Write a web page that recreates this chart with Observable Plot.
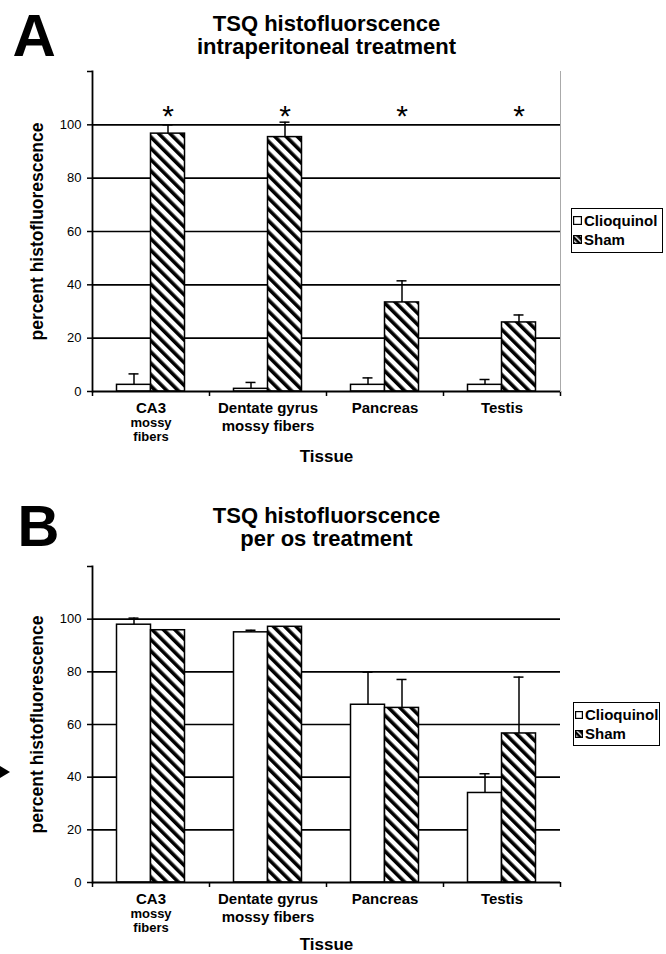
<!DOCTYPE html>
<html><head><meta charset="utf-8">
<script src="https://cdn.jsdelivr.net/npm/d3@7"></script>
<script src="https://cdn.jsdelivr.net/npm/@observablehq/plot@0.6"></script>
<style>
body{margin:0;background:#fff;}
#page{position:relative;width:666px;height:954px;overflow:hidden;font-family:"Liberation Sans",Arial,sans-serif;color:#000;}
.panel{position:absolute;left:0;}
.legend{position:absolute;border:1px solid #000;background:#fff;font-weight:bold;font-size:15px;box-sizing:border-box;white-space:nowrap;padding:2px 0 0 1px;}
.legend .row{display:flex;align-items:center;height:19px;}
.legend svg{margin-right:2px;flex:none;}
.arrow{position:absolute;left:0;top:766px;width:0;height:0;border-top:6px solid transparent;border-bottom:6px solid transparent;border-left:10px solid #000;}
</style></head>
<body><div id="page"></div>
<script>
// ---- data ----
const tissues = ["CA3", "Dentate gyrus", "Pancreas", "Testis"];
const subLabelCA3 = "mossy\nfibers";
const subLabelDG = "mossy fibers";
const series = ["Clioquinol", "Sham"];
const yTicks = [0, 20, 40, 60, 80, 100, 120];
const gridValues = [20, 40, 60, 80, 100];

// Panel A: intraperitoneal treatment
const titleA = ["TSQ histofluorscence", "intraperitoneal treatment"];
const clioA = [2.5, 1.0, 2.5, 2.5];
const clioErrA = [4.1, 2.4, 2.6, 2.0];
const shamA = [96.7, 95.4, 33.4, 25.9];
const shamErrA = [3.3, 5.6, 8.1, 2.8];
const starsA = [true, true, true, true];

// Panel B: per os treatment
const titleB = ["TSQ histofluorscence", "per os treatment"];
const clioB = [97.9, 95.0, 67.5, 34.0];
const clioErrB = [2.5, 0.8, 12.4, 7.3];
const shamB = [95.8, 97.1, 66.3, 56.6];
const shamErrB = [0, 0, 10.8, 21.4];
const starsB = [false, false, false, false];

// ---- drawing ----
const W = 666;
const FONT = '"Liberation Sans", Arial, sans-serif';
const BAR = 34, CAP = 10, SW = 1.5;
const mL = 92, mR = 106;
const band = (W - mL - mR) / tissues.length;
const half = band / 2;

function addHatch(svg, id, size, thick) {
  const defs = d3.select(svg).insert("defs", ":first-child");
  const p = defs.append("pattern").attr("id", id)
    .attr("patternUnits", "userSpaceOnUse")
    .attr("width", size).attr("height", size)
    .attr("patternTransform", "rotate(-45)");
  p.append("rect").attr("width", size).attr("height", size).attr("fill", "#fff");
  p.append("rect").attr("width", thick).attr("height", size).attr("fill", "#000");
}

function makePanel(o) {
  const rows = tissues.map((t, i) => ({
    tissue: t, clio: o.clio[i], clioErr: o.clioErr[i],
    sham: o.sham[i], shamErr: o.shamErr[i], star: o.stars[i]
  }));
  const clioE = rows.filter(r => r.clioErr > 0);
  const shamE = rows.filter(r => r.shamErr > 0);
  const hatch = "hatch" + o.id;
  const marks = [
    Plot.ruleY(gridValues, {stroke: "#000", strokeWidth: 1.6}),
    Plot.barY(rows, {x: "tissue", y: "clio", fill: "#fff", stroke: "#000", strokeWidth: SW,
      insetLeft: half - BAR, insetRight: half}),
    Plot.barY(rows, {x: "tissue", y: "sham", fill: `url(#${hatch})`, stroke: "#000", strokeWidth: SW,
      insetLeft: half, insetRight: half - BAR}),
    Plot.ruleX(clioE, {x: "tissue", y1: "clio", y2: r => r.clio + r.clioErr, dx: -BAR / 2, stroke: "#000", strokeWidth: SW}),
    Plot.tickY(clioE, {x: "tissue", y: r => r.clio + r.clioErr, stroke: "#000", strokeWidth: SW,
      insetLeft: half - BAR / 2 - CAP / 2, insetRight: half + BAR / 2 - CAP / 2}),
    Plot.ruleX(shamE, {x: "tissue", y1: "sham", y2: r => r.sham + r.shamErr, dx: BAR / 2, stroke: "#000", strokeWidth: SW}),
    Plot.tickY(shamE, {x: "tissue", y: r => r.sham + r.shamErr, stroke: "#000", strokeWidth: SW,
      insetLeft: half + BAR / 2 - CAP / 2, insetRight: half - BAR / 2 - CAP / 2}),
    Plot.ruleY([0], {stroke: "#000", strokeWidth: 1.8}),
    Plot.ruleX(tissues, {x: d => d, y1: 0, y2: 0, insetTop: 5, dx: -half, stroke: "#000", strokeWidth: SW}),
    Plot.ruleX([tissues[tissues.length - 1]], {x: d => d, y1: 0, y2: 0, insetTop: 5, dx: half, stroke: "#000", strokeWidth: SW}),
    Plot.frame({anchor: "left", stroke: "#000", strokeWidth: 1.8}),
    Plot.axisY({ticks: yTicks, tickFormat: d => d === 120 ? "" : d, tickSize: 5, tickPadding: 6,
      fontSize: 13, label: null, stroke: "#000", strokeWidth: SW}),
    Plot.text(rows.filter(r => r.star), {x: "tissue", frameAnchor: "top", text: () => "*",
      dx: BAR / 2, dy: 45, lineAnchor: "middle", fontSize: 30, fill: "#000"}),
    // x tick labels
    Plot.text(tissues, {x: d => d, frameAnchor: "bottom", lineAnchor: "bottom", dy: 21,
      fontSize: 15, fontWeight: "bold", fill: "#000"}),
    Plot.text([tissues[0]], {x: d => d, text: () => subLabelCA3, frameAnchor: "bottom", lineAnchor: "bottom",
      dy: 49, fontSize: 13, lineHeight: 1.02, fontWeight: "bold", fill: "#000"}),
    Plot.text([tissues[1]], {x: d => d, text: () => subLabelDG, frameAnchor: "bottom", lineAnchor: "bottom",
      dy: 39, fontSize: 15, fontWeight: "bold", fill: "#000"}),
    Plot.text(["Tissue"], {frameAnchor: "bottom", lineAnchor: "bottom", dy: o.tissueDy,
      fontSize: 17, fontWeight: "bold", fill: "#000"}),
    Plot.text(["percent histofluorescence"], {frameAnchor: "left", textAnchor: "middle", rotate: -90, dx: -55,
      fontSize: 17.5, fontWeight: "bold", fill: "#000"}),
    // title, two lines
    Plot.text([o.title[0]], {frameAnchor: "top", lineAnchor: "bottom", dy: o.titleDy - 23,
      fontSize: 22, fontWeight: "bold", fill: "#000"}),
    Plot.text([o.title[1]], {frameAnchor: "top", lineAnchor: "bottom", dy: o.titleDy,
      fontSize: 22, fontWeight: "bold", fill: "#000"}),
    Plot.text([o.letter], {frameAnchor: "top-left", textAnchor: "start", lineAnchor: "bottom",
      dx: o.letterDx, dy: o.letterDy, fontSize: o.letterSize, fontWeight: "bold", fill: "#000"})
  ];
  if (o.rightBorder) marks.push(Plot.frame({anchor: "right", stroke: "#aaa", strokeWidth: 1}));
  const svg = Plot.plot({
    width: W, height: o.height,
    marginLeft: mL, marginRight: mR, marginTop: o.marginTop, marginBottom: o.marginBottom,
    style: {fontFamily: FONT, color: "#000", background: "transparent", overflow: "visible"},
    x: {domain: tissues, padding: 0, axis: null},
    y: {domain: [0, 120]},
    marks
  });
  addHatch(svg, hatch, 8, 3.6);
  const wrap = document.createElement("div");
  wrap.className = "panel";
  wrap.style.top = o.top + "px";
  wrap.appendChild(svg);
  return wrap;
}

function makeLegend(id, left, top, w, h, sw) {
  const div = document.createElement("div");
  div.className = "legend";
  Object.assign(div.style, {left: left + "px", top: top + "px", width: w + "px", height: h + "px"});
  series.forEach((s, i) => {
    const row = document.createElement("div");
    row.className = "row";
    const fill = i === 0 ? "#fff" : `url(#lh${id})`;
    row.innerHTML = `<svg width="${sw}" height="${sw}"><defs><pattern id="lh${id}" patternUnits="userSpaceOnUse" width="4" height="4" patternTransform="rotate(-45)"><rect width="4" height="4" fill="#000"/><rect width="1.4" height="4" fill="#fff"/></pattern></defs><rect x="0.6" y="0.6" width="${sw - 1.2}" height="${sw - 1.2}" fill="${fill}" stroke="#000" stroke-width="1.2"/></svg><span>${s}</span>`;
    div.appendChild(row);
  });
  return div;
}

const page = document.getElementById("page");
page.appendChild(makePanel({id: "A", top: 0, height: 475, marginTop: 71, marginBottom: 84,
  clio: clioA, clioErr: clioErrA, sham: shamA, shamErr: shamErrA, stars: starsA,
  title: titleA, titleDy: -18, letter: "A", letterDx: -80, letterDy: -16, letterSize: 60,
  tissueDy: 70, rightBorder: true}));
page.appendChild(makePanel({id: "B", top: 480, height: 474, marginTop: 86, marginBottom: 72,
  clio: clioB, clioErr: clioErrB, sham: shamB, shamErr: shamErrB, stars: starsB,
  title: titleB, titleDy: -21, letter: "B", letterDx: -75, letterDy: -21, letterSize: 58,
  tissueDy: 67, rightBorder: false}));
page.appendChild(makeLegend("A", 571, 208, 92, 45, 9));
page.appendChild(makeLegend("B", 573, 702, 87, 44, 8));
const arrow = document.createElement("div");
arrow.className = "arrow";
page.appendChild(arrow);
</script>
</body></html>
